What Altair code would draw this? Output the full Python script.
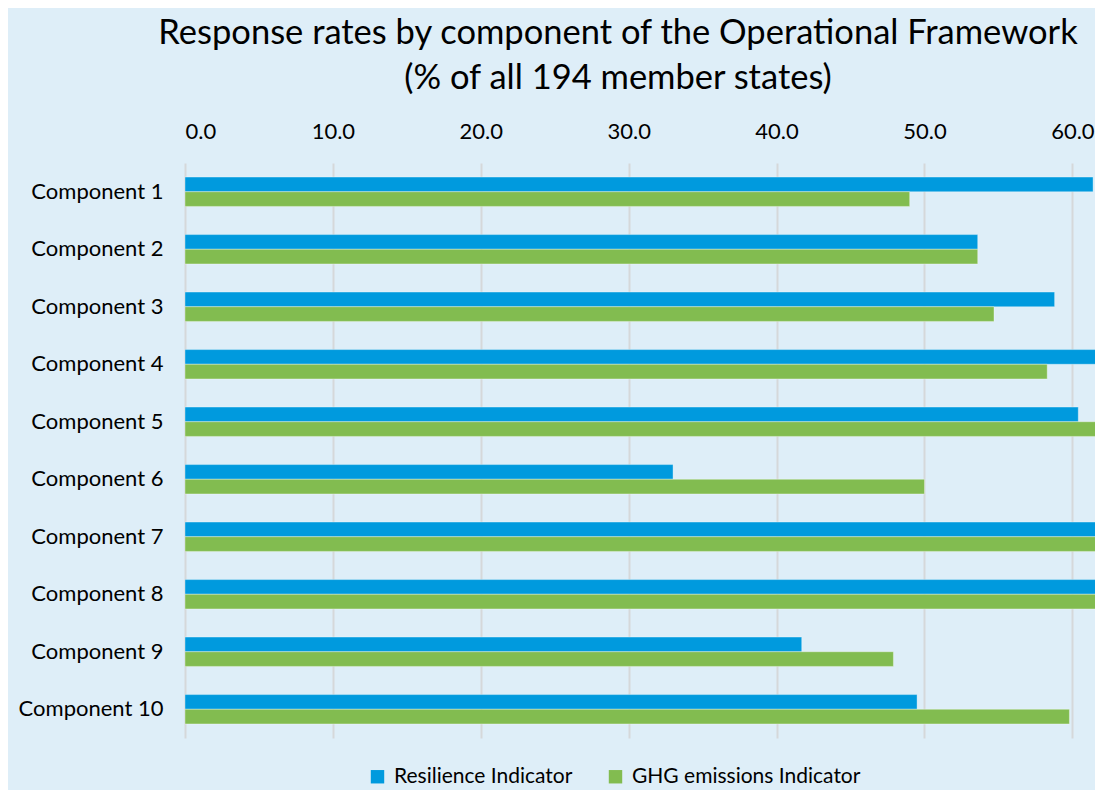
import altair as alt
import pandas as pd

components = [f"Component {i}" for i in range(1, 11)]
series = ["Resilience Indicator", "GHG emissions Indicator"]
resilience = [61.4, 53.6, 58.8, 61.9, 60.4, 33.0, 66.0, 66.0, 41.7, 49.5]
ghg = [49.0, 53.6, 54.7, 58.3, 64.5, 50.0, 65.0, 65.0, 47.9, 59.8]
x_ticks = [0, 10, 20, 30, 40, 50, 60]
colors = ["#009ADE", "#82BC50"]

rows = []
for c, r, g in zip(components, resilience, ghg):
    rows.append({"component": c, "series": series[0], "value": r})
    rows.append({"component": c, "series": series[1], "value": g})
df = pd.DataFrame(rows)

FONT = "Lato"

chart = alt.Chart(df).mark_bar(clip=True, stroke="white", strokeOpacity=0.35, strokeWidth=1).encode(
    x=alt.X("value:Q",
            scale=alt.Scale(domain=[0, 61.53], nice=False, zero=True),
            axis=alt.Axis(orient="top", values=x_ticks, format=".1f", title=None,
                          grid=True, gridColor="#D5D8DA", gridWidth=2,
                          domain=False, ticks=False, labelPadding=20,
                          labelFontSize=22, labelFont=FONT, labelColor="#000000")),
    y=alt.Y("component:N", sort=components,
            scale=alt.Scale(paddingInner=0.49, paddingOuter=0.245),
            axis=alt.Axis(title=None, domain=False, ticks=False, labelPadding=22,
                          labelFontSize=22, labelFont=FONT, labelColor="#000000",
                          labelLimit=0)),
    yOffset=alt.YOffset("series:N", sort=series),
    color=alt.Color("series:N", sort=series,
                    scale=alt.Scale(domain=series, range=colors),
                    legend=alt.Legend(title=None, orient="none", legendX=182, legendY=603,
                                      direction="horizontal", symbolType="square",
                                      symbolSize=180, symbolStrokeWidth=0,
                                      labelFontSize=21, labelFont=FONT, labelColor="#000000",
                                      labelLimit=0, columnPadding=32, labelOffset=6,
                                      padding=0)),
).properties(
    width=910,
    height=575,
    autosize=alt.AutoSizeParams(type="none"),
    padding={"left": 177, "top": 155, "right": 0, "bottom": 52},
    background="#DEEEF8",
    title=alt.TitleParams(
        text=["Response rates by component of the Operational Framework",
              "(% of all 194 member states)"],
        font=FONT, fontSize=34.5, fontWeight="normal", color="#000000",
        lineHeight=45, anchor="middle", dx=-22, offset=24),
).configure_view(stroke=None)

chart.save("out.html", embed_options={"renderer": "svg", "actions": False})
